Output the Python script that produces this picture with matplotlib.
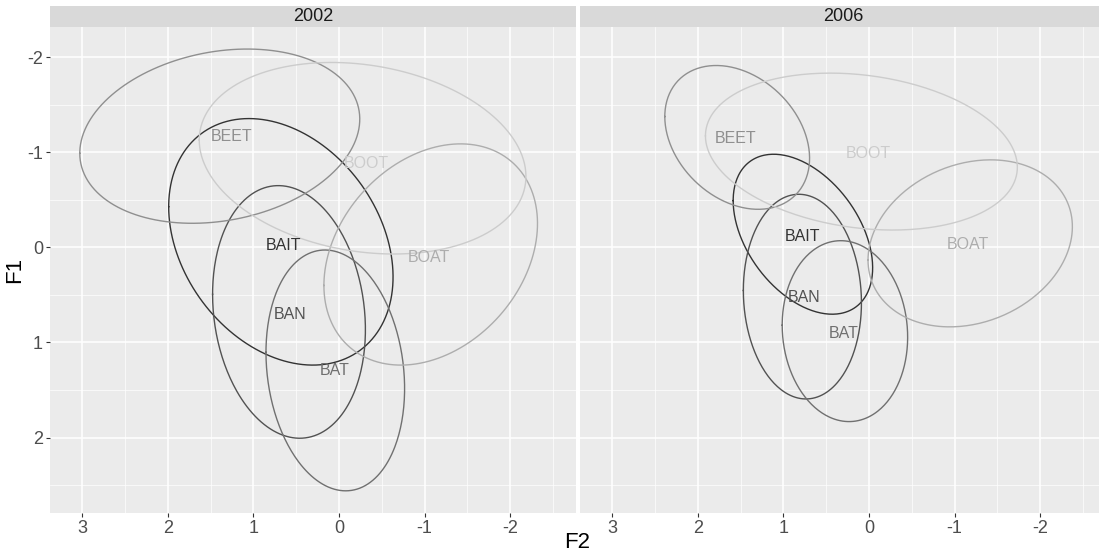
import numpy as np
import matplotlib
matplotlib.use("Agg")
import matplotlib.pyplot as plt
from matplotlib.ticker import MultipleLocator

plt.rcParams['font.family'] = ['Liberation Sans', 'DejaVu Sans']
plt.rcParams['axes.unicode_minus'] = False

# vowel classes, alphabetical (grey scale from dark to light)
vowels = ["BAIT", "BAN", "BAT", "BEET", "BOAT", "BOOT"]
greys = ["#333333", "#525252", "#707070", "#8F8F8F", "#ADADAD", "#CCCCCC"]
years = ["2002", "2006"]

# ellipse parameters (data units)
# centre F2, centre F1, half-width F2, half-height F1, tilt (cos of phase)
cx_2002 = [0.679, 0.584, 0.043, 1.393, -1.072, -0.276]
cy_2002 = [-0.058, 0.679, 1.294, -1.169, 0.075, -0.937]
ax_2002 = [1.311, 0.893, 0.81, 1.636, 1.248, 1.909]
by_2002 = [1.296, 1.328, 1.266, 0.916, 1.163, 1.007]
tilt_2002 = [-0.285, -0.14, -0.15, 0.196, 0.28, -0.19]

cx_2006 = [0.772, 0.778, 0.281, 1.54, -1.183, 0.0885]
cy_2006 = [-0.138, 0.518, 0.881, -1.156, -0.042, -1.007]
ax_2006 = [0.815, 0.69, 0.733, 0.846, 1.194, 1.8225]
by_2006 = [0.841, 1.076, 0.951, 0.756, 0.878, 0.825]
tilt_2006 = [-0.42, -0.06, -0.066, -0.29, 0.2, -0.2]

# label positions (vowel means)
lx_2002 = [0.648, 0.566, 0.053, 1.251, -1.056, -0.317]
ly_2002 = [-0.018, 0.706, 1.30, -1.165, 0.109, -0.884]
lx_2006 = [0.776, 0.764, 0.293, 1.554, -1.16, 0.011]
ly_2006 = [-0.112, 0.531, 0.906, -1.147, -0.035, -0.982]

panels = {
    "2002": (cx_2002, cy_2002, ax_2002, by_2002, tilt_2002, lx_2002, ly_2002),
    "2006": (cx_2006, cy_2006, ax_2006, by_2006, tilt_2006, lx_2006, ly_2006),
}

W, H = 1099, 555
fig = plt.figure(figsize=(W / 100, H / 100), dpi=100)

left_px = [50, 580]
pw = 526
top_px, bot_px = 26.7, 512.7
strip_h = 21

t = np.linspace(0, 2 * np.pi, 300)

for i, yr in enumerate(years):
    x0 = left_px[i] / W
    ax = fig.add_axes([x0, 1 - bot_px / H, pw / W, (bot_px - top_px) / H])
    ax.set_facecolor("#EBEBEB")
    for s in ax.spines.values():
        s.set_visible(False)
    ax.set_xlim(3.377, -2.77)
    ax.set_ylim(2.79, -2.32)
    ax.xaxis.set_major_locator(MultipleLocator(1))
    ax.xaxis.set_minor_locator(MultipleLocator(0.5))
    ax.yaxis.set_major_locator(MultipleLocator(1))
    ax.yaxis.set_minor_locator(MultipleLocator(0.5))
    ax.grid(which="major", color="white", linewidth=1.1)
    ax.grid(which="minor", color="white", linewidth=0.5)
    ax.set_axisbelow(True)
    ax.tick_params(which="minor", length=0)
    ax.tick_params(which="major", length=3, width=0.8, color="#333333",
                   labelsize=13, labelcolor="#4D4D4D", pad=2)
    if i > 0:
        ax.tick_params(axis="y", left=False, labelleft=False)

    cx, cy, a, b, tl, lx, ly = panels[yr]
    for k, v in enumerate(vowels):
        phi = np.arccos(tl[k])
        xs = cx[k] + a[k] * np.cos(t)
        ys = cy[k] + b[k] * np.cos(t - phi)
        ax.plot(xs, ys, color=greys[k], linewidth=1.0)
        ax.text(lx[k], ly[k], v, color=greys[k], fontsize=11.5,
                ha="center", va="center")

    # facet strip
    sax = fig.add_axes([x0, 1 - top_px / H, pw / W, strip_h / H])
    sax.set_facecolor("#D9D9D9")
    sax.set_xticks([])
    sax.set_yticks([])
    for s in sax.spines.values():
        s.set_visible(False)
    sax.text(0.5, 0.5, yr, transform=sax.transAxes, ha="center", va="center",
             fontsize=13, color="#1A1A1A")

fig.text(15 / W, 1 - 269.7 / H, "F1", rotation=90, ha="center", va="center",
         fontsize=16)
fig.text(577.5 / W, 1 - 542 / H, "F2", ha="center", va="center", fontsize=16)

fig.savefig("out.png", dpi=100)
